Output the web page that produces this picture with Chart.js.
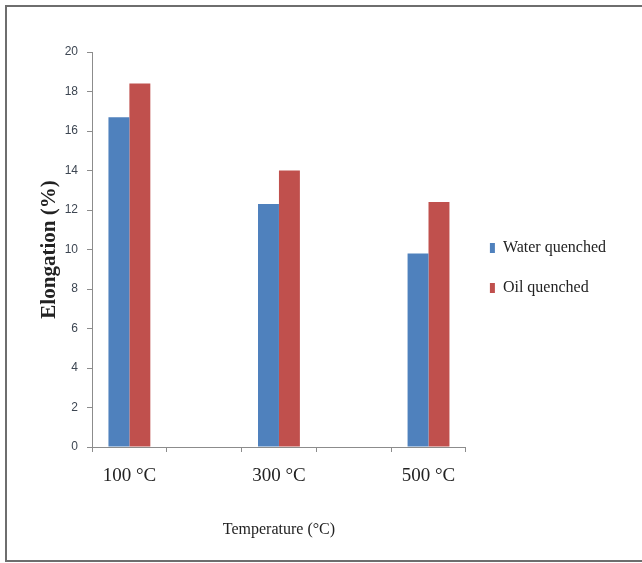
<!DOCTYPE html>
<html>
<head>
<meta charset="utf-8">
<script src="https://cdn.jsdelivr.net/npm/chart.js@4"></script>
<style>
  html, body { margin: 0; padding: 0; background: #fff; }
  #wrap { position: relative; width: 642px; height: 563px; }
</style>
</head>
<body>
<div id="wrap"><canvas id="c" width="642" height="563"></canvas></div>
<script>
const categories = ['100 °C', '', '300 °C', '', '500 °C'];
const waterQuenched = [16.7, null, 12.3, null, 9.8];
const oilQuenched = [18.4, null, 14.0, null, 12.4];
const yTicks = [0, 2, 4, 6, 8, 10, 12, 14, 16, 18, 20];

const frame = {
  id: 'frame',
  beforeDraw(chart) {
    const ctx = chart.ctx;
    ctx.save();
    ctx.fillStyle = '#fff';
    ctx.fillRect(0, 0, chart.width, chart.height);
    ctx.strokeStyle = '#6e6e6e';
    ctx.lineWidth = 2;
    ctx.beginPath();
    ctx.moveTo(642, 6);
    ctx.lineTo(6, 6);
    ctx.lineTo(6, 561);
    ctx.lineTo(642, 561);
    ctx.stroke();
    ctx.restore();
  }
};

new Chart(document.getElementById('c'), {
  type: 'bar',
  data: {
    labels: categories,
    datasets: [
      { label: 'Water quenched', data: waterQuenched, backgroundColor: '#4F81BD', borderColor: '#4F81BD', borderWidth: 0 },
      { label: 'Oil quenched', data: oilQuenched, backgroundColor: '#C0504D', borderColor: '#C0504D', borderWidth: 0 }
    ]
  },
  plugins: [frame],
  options: {
    responsive: false,
    animation: false,
    devicePixelRatio: 1,
    layout: { padding: { top: 52, left: 0, right: 26, bottom: 0 } },
    datasets: { bar: { categoryPercentage: 0.56, barPercentage: 1.0 } },
    plugins: {
      tooltip: { enabled: false },
      legend: {
        position: 'right',
        align: 'start',
        title: { display: true, text: ' ', font: { size: 10 }, padding: { top: 152, bottom: 0 } },
        labels: {
          boxWidth: 5,
          boxHeight: 10,
          padding: 24,
          color: '#222',
          font: { family: 'Liberation Serif', size: 16 }
        }
      }
    },
    scales: {
      x: {
        grid: { display: true, drawOnChartArea: false, drawTicks: true, tickLength: 5, color: '#8c8c8c', offset: true },
        border: { display: true, color: '#8c8c8c', width: 1 },
        ticks: { color: '#222', padding: 13, maxRotation: 0, autoSkip: false, font: { family: 'Liberation Serif', size: 19 } },
        title: { display: true, text: 'Temperature (°C)', color: '#222', font: { family: 'Liberation Serif', size: 16 }, padding: { top: 0, bottom: 24 } },
        afterFit(scale) { scale.height = 116; }
      },
      y: {
        min: 0, max: 20,
        afterBuildTicks(scale) { scale.ticks = yTicks.map(v => ({ value: v })); },
        grid: { display: true, drawOnChartArea: false, drawTicks: true, tickLength: 5, color: '#8c8c8c' },
        border: { display: true, color: '#8c8c8c', width: 1 },
        ticks: { color: '#3d4652', padding: 9, font: { family: 'Liberation Sans', size: 12 } },
        title: { display: true, text: 'Elongation (%)', color: '#222', font: { family: 'Liberation Serif', size: 21, weight: 'bold' }, padding: { top: 37, bottom: 0 } },
        afterFit(scale) { scale.width = 92; }
      }
    }
  }
});
</script>
</body>
</html>
